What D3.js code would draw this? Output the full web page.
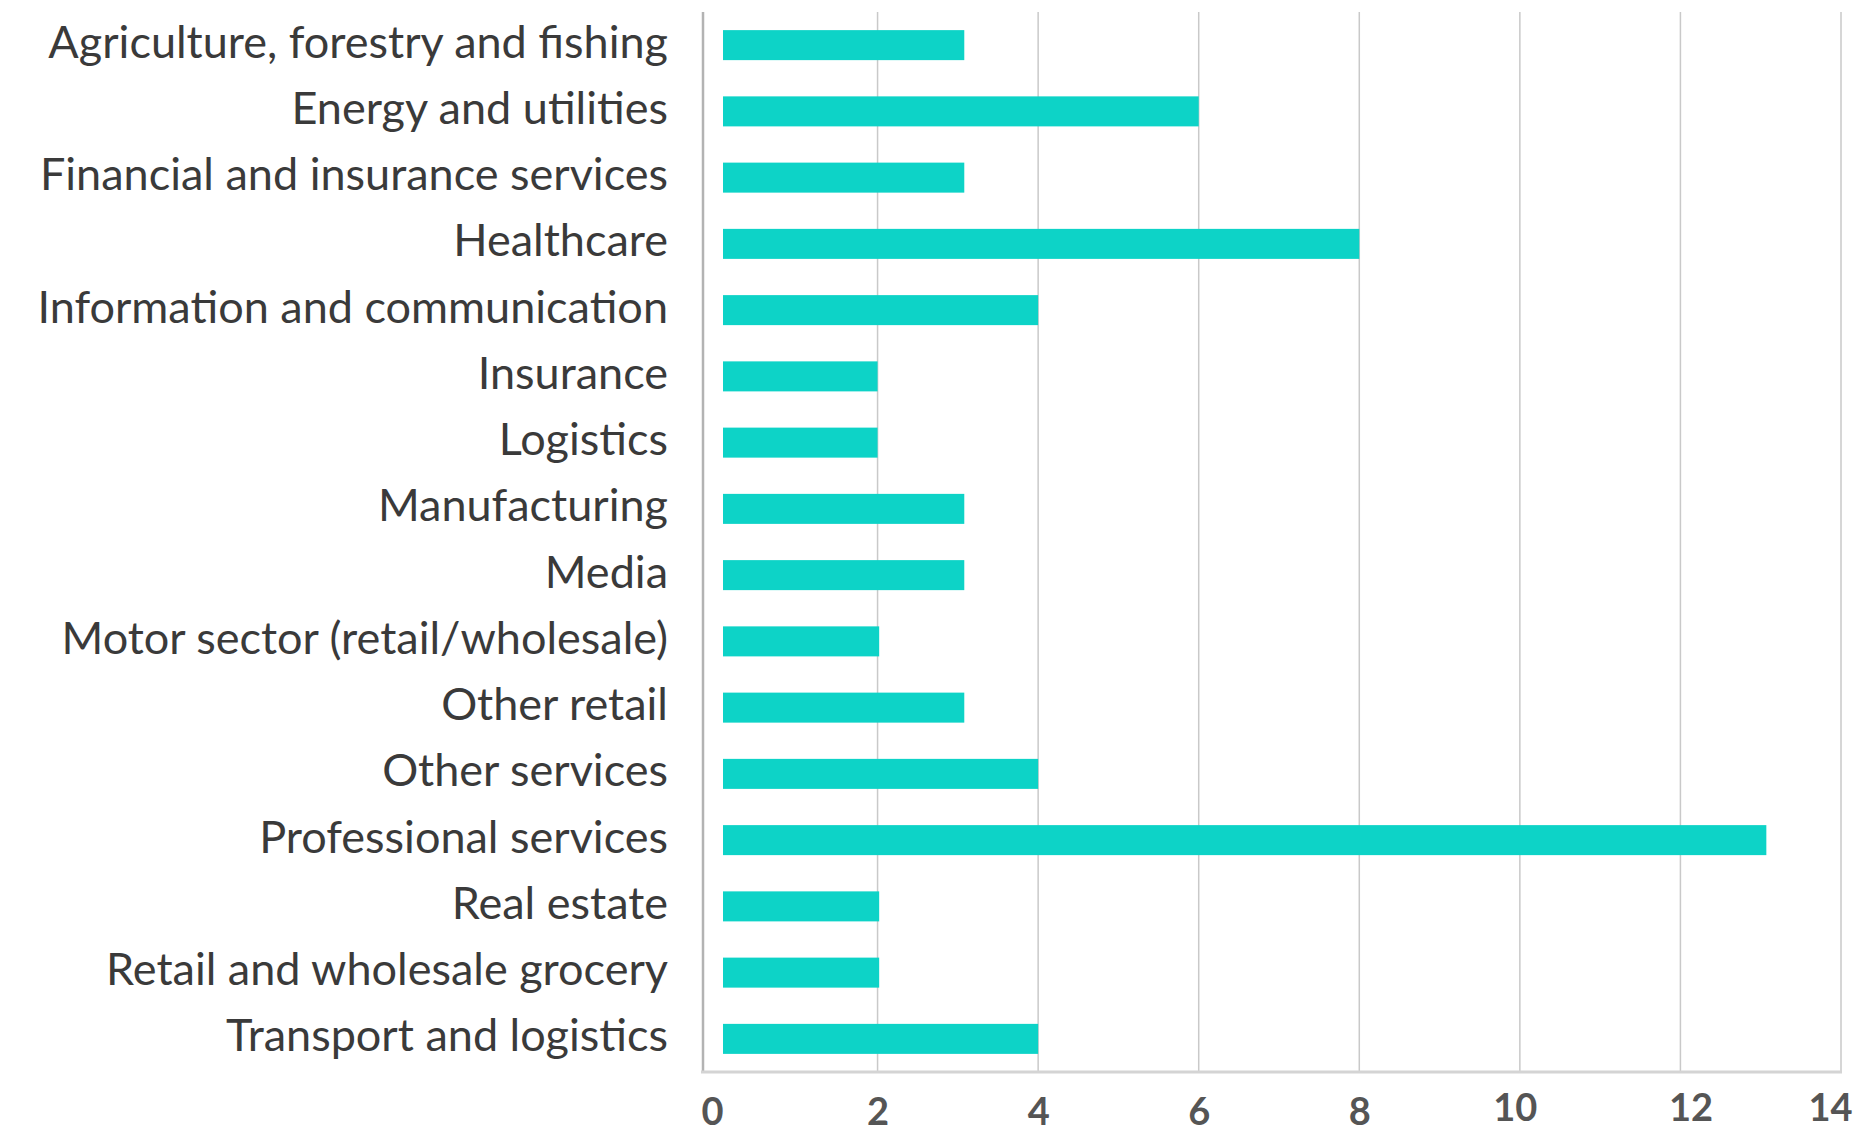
<!DOCTYPE html>
<html>
<head>
<meta charset="utf-8">
<script src="https://cdn.jsdelivr.net/npm/d3@7"></script>
<style>
  html, body { margin: 0; padding: 0; background: #fff; }
  svg { display: block; }
</style>
</head>
<body>
<svg id="chart" width="1865" height="1132"></svg>
<script>
const categories = [
  "Agriculture, forestry and fishing",
  "Energy and utilities",
  "Financial and insurance services",
  "Healthcare",
  "Information and communication",
  "Insurance",
  "Logistics",
  "Manufacturing",
  "Media",
  "Motor sector (retail/wholesale)",
  "Other retail",
  "Other services",
  "Professional services",
  "Real estate",
  "Retail and wholesale grocery",
  "Transport and logistics"
];
const values = [3.08, 6, 3.08, 8, 4, 2, 2, 3.08, 3.08, 2.02, 3.08, 4, 13.07, 2.02, 2.02, 4];
const tickValues = [0, 2, 4, 6, 8, 10, 12, 14];
const tickLabels = ["0", "2", "4", "6", "8", "10", "12", "14"];

const svg = d3.select("#chart");
const plotTop = 12, plotBottom = 1072, axisX = 703, labelRight = 668;

const x = d3.scaleLinear().domain([0, 14]).range([717, 1841]);
const y = d3.scaleBand().domain(categories).range([plotTop, plotBottom])
  .paddingInner(0.547).paddingOuter(0.2735);

// gridlines
svg.append("g").selectAll("line")
  .data(tickValues.filter(d => d > 0))
  .join("line")
  .attr("x1", d => x(d)).attr("x2", d => x(d))
  .attr("y1", plotTop).attr("y2", plotBottom)
  .attr("stroke", "#c9c9c9").attr("stroke-width", 1.5);

// bars
svg.append("g").selectAll("rect")
  .data(categories)
  .join("rect")
  .attr("x", x(0) + 6)
  .attr("y", d => y(d))
  .attr("width", (d, i) => x(values[i]) - x(0) - 6)
  .attr("height", y.bandwidth())
  .attr("fill", "#0dd3c7");

// axis lines
svg.append("line").attr("x1", axisX).attr("x2", axisX).attr("y1", plotTop).attr("y2", plotBottom + 1)
  .attr("stroke", "#b3b3b3").attr("stroke-width", 2.5);
svg.append("line").attr("x1", axisX - 2).attr("x2", x(14) + 1).attr("y1", plotBottom).attr("y2", plotBottom)
  .attr("stroke", "#d4d4d4").attr("stroke-width", 3);

// x axis tick labels (small per-label nudges mimic the reference layout)
const nudgeX = {0: -5, 10: -5, 12: 10, 14: -11};
const xAxis = d3.axisBottom(x).tickValues(tickValues)
  .tickFormat((d, i) => tickLabels[i]).tickSize(0);
const gx = svg.append("g").attr("transform", `translate(0,${plotBottom})`).call(xAxis);
gx.select(".domain").remove();
gx.selectAll("text")
  .attr("y", 0)
  .attr("dy", d => d >= 10 ? 34 : 38)
  .attr("dx", d => nudgeX[d] || 0)
  .attr("dominant-baseline", "central")
  .style("font-family", "Lato")
  .style("font-weight", "bold")
  .style("font-size", "38px")
  .style("fill", "#555555");

// y axis category labels
const yAxis = d3.axisLeft(y).tickSize(0).tickPadding(0);
const gy = svg.append("g").attr("transform", `translate(${labelRight},0)`).call(yAxis);
gy.select(".domain").remove();
gy.selectAll("text")
  .attr("x", 0)
  .attr("dy", "0.28em")
  .style("font-family", "Lato")
  .style("font-size", "45px")
  .style("fill", "#3a3a3a");
</script>
</body>
</html>
